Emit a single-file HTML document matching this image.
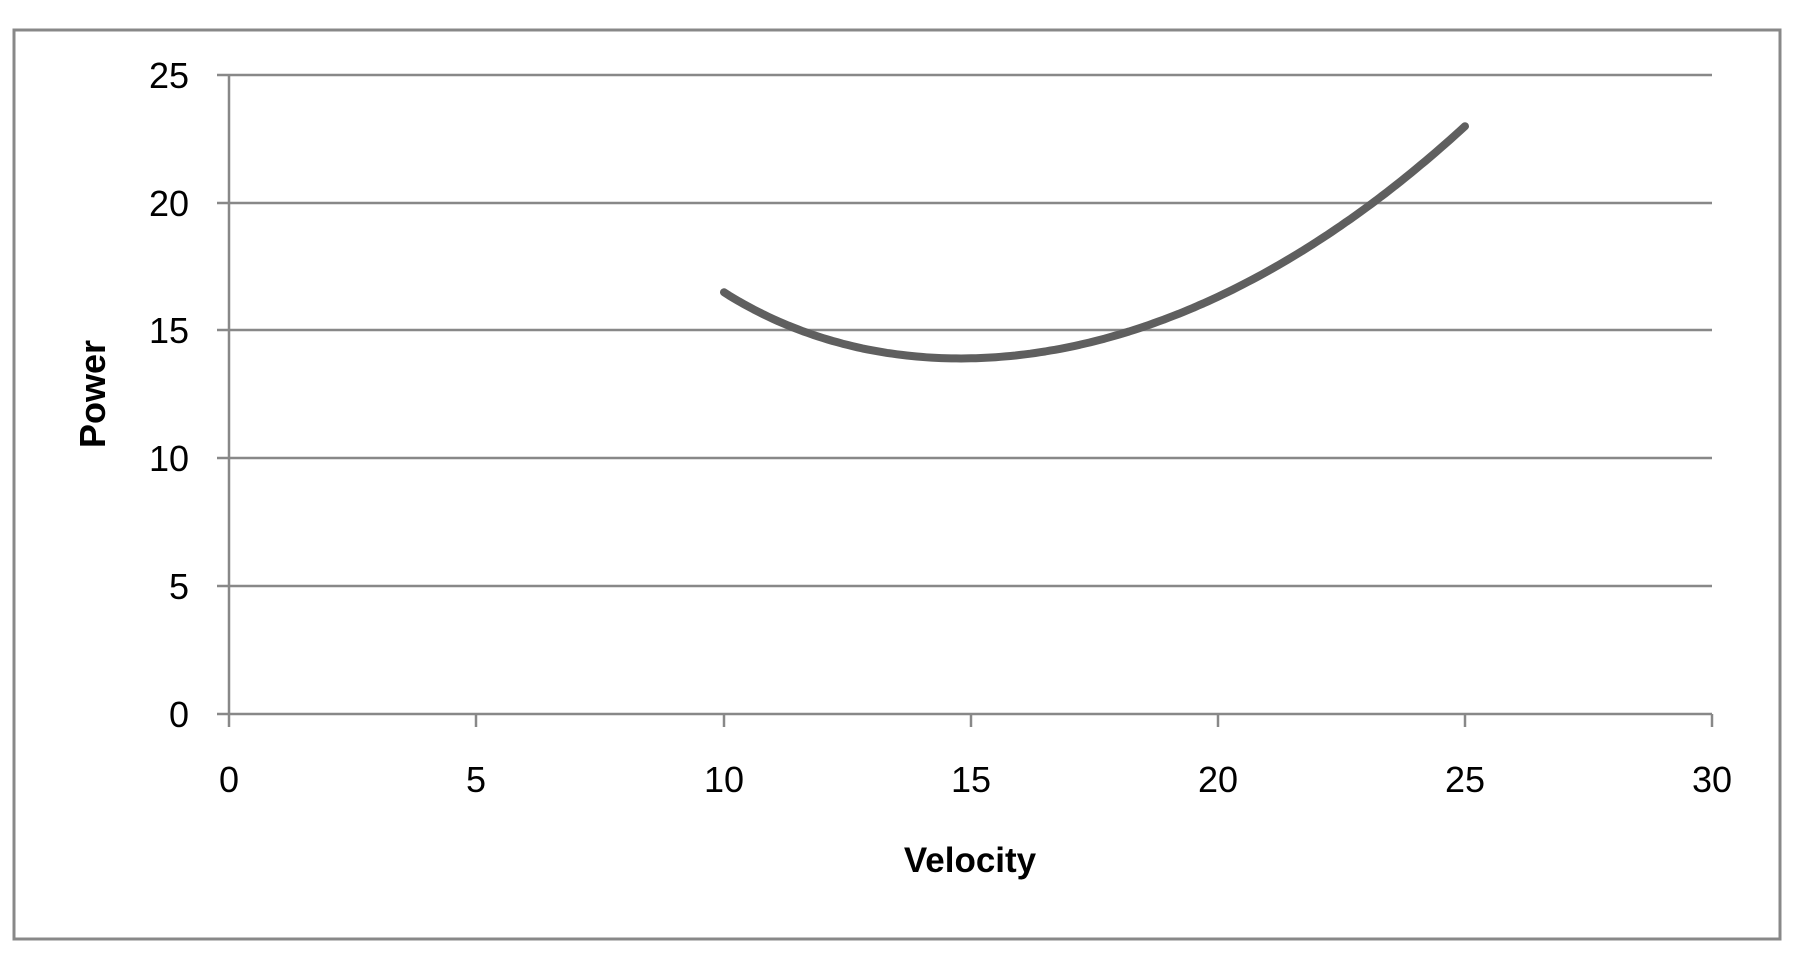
<!DOCTYPE html>
<html><head><meta charset="utf-8"><style>
html,body{margin:0;padding:0;background:#fff;}
svg{display:block;font-family:"Liberation Sans",sans-serif;}
</style></head><body>
<svg id="s" width="1794" height="957" viewBox="0 0 1794 957" xmlns="http://www.w3.org/2000/svg">
<rect x="14" y="30" width="1766" height="909" fill="#fff" stroke="#888" stroke-width="3"/>
<g stroke="#888" stroke-width="2.5" fill="none">
<line x1="217" y1="75" x2="1712" y2="75"/>
<line x1="217" y1="203" x2="1712" y2="203"/>
<line x1="217" y1="330" x2="1712" y2="330"/>
<line x1="217" y1="458" x2="1712" y2="458"/>
<line x1="217" y1="586" x2="1712" y2="586"/>
<line x1="217" y1="714" x2="1712" y2="714"/>
<line x1="229" y1="75" x2="229" y2="714"/>
<line x1="229" y1="714" x2="229" y2="727"/>
<line x1="476" y1="714" x2="476" y2="727"/>
<line x1="724" y1="714" x2="724" y2="727"/>
<line x1="971" y1="714" x2="971" y2="727"/>
<line x1="1218" y1="714" x2="1218" y2="727"/>
<line x1="1465" y1="714" x2="1465" y2="727"/>
<line x1="1712" y1="714" x2="1712" y2="727"/>
</g>
<g font-size="36" fill="#000" text-anchor="end">
<text x="189" y="88">25</text>
<text x="189" y="216">20</text>
<text x="189" y="343">15</text>
<text x="189" y="471">10</text>
<text x="189" y="599">5</text>
<text x="189" y="727">0</text>
</g>
<g font-size="36" fill="#000" text-anchor="middle">
<text x="229" y="792">0</text>
<text x="476" y="792">5</text>
<text x="724" y="792">10</text>
<text x="971" y="792">15</text>
<text x="1218" y="792">20</text>
<text x="1465" y="792">25</text>
<text x="1712" y="792">30</text>
</g>
<text x="970" y="872" font-size="35" font-weight="bold" text-anchor="middle">Velocity</text>
<text transform="translate(105,394) rotate(-90)" font-size="36" font-weight="bold" text-anchor="middle">Power</text>
<path id="c" fill="none" stroke="#5f5f5f" stroke-width="8" stroke-linecap="round" stroke-linejoin="round" d=""/>
</svg>
<script>
var A=154.2,B=0.001077,d="";
for(var i=0;i<=150;i++){var v=10+i*0.1;var p=A/v+B*v*v*v;var x=230+v*49.4,y=714-p*25.56;d+=(i?"L":"M")+x.toFixed(1)+" "+y.toFixed(1);}
document.getElementById("c").setAttribute("d",d);
</script>
</body></html>
